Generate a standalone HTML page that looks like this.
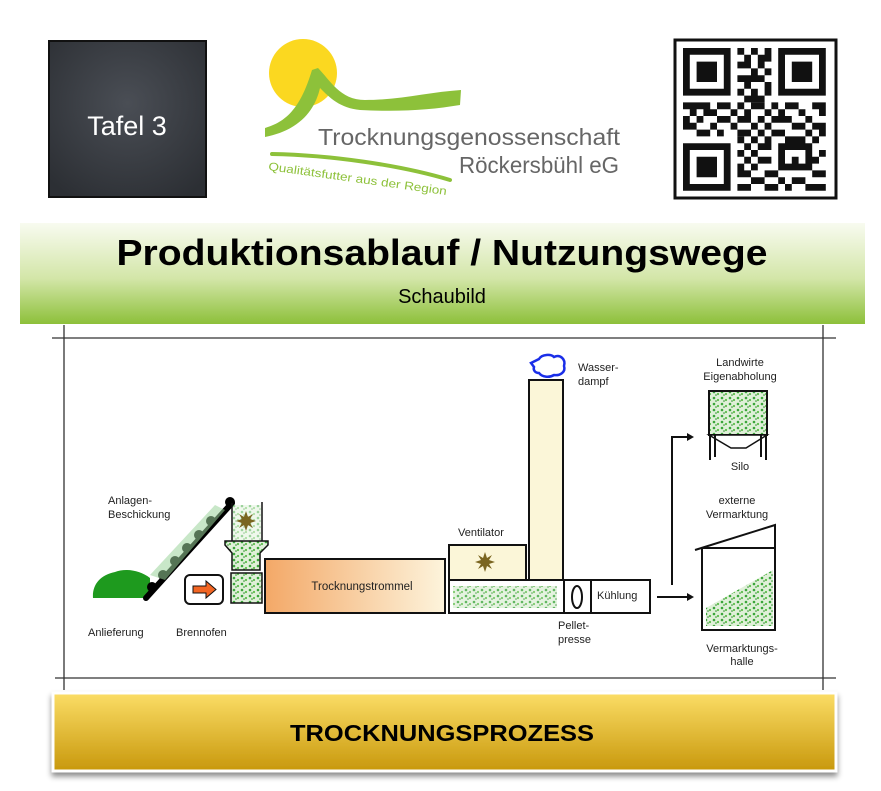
<!DOCTYPE html>
<html><head><meta charset="utf-8"><style>
html,body{margin:0;padding:0;background:#fff;width:881px;height:791px;overflow:hidden}
svg{display:block}
text{font-family:"Liberation Sans",sans-serif}
</style></head><body>
<svg width="881" height="791" viewBox="0 0 881 791" xmlns="http://www.w3.org/2000/svg">
<defs>
<linearGradient id="gb" x1="0" y1="0" x2="0" y2="1"><stop offset="0" stop-color="#f8fbf0"/><stop offset="0.55" stop-color="#d3e6a8"/><stop offset="1" stop-color="#8dc03a"/></linearGradient>
<linearGradient id="gold" x1="0" y1="0" x2="0" y2="1"><stop offset="0" stop-color="#fbdd66"/><stop offset="1" stop-color="#c8980c"/></linearGradient>
<linearGradient id="drum" x1="0" y1="0" x2="1" y2="0"><stop offset="0" stop-color="#f3a867"/><stop offset="1" stop-color="#fdf4dc"/></linearGradient>
<radialGradient id="chalk" cx="0.5" cy="0.4" r="0.7"><stop offset="0" stop-color="#4a4e55"/><stop offset="1" stop-color="#2c2f34"/></radialGradient>
<pattern id="grn" width="8" height="6" patternUnits="userSpaceOnUse"><rect width="8" height="6" fill="#dff0d8"/><circle cx="2" cy="2" r="1.3" fill="#3aa53a"/><circle cx="6" cy="4" r="1.1" fill="#5bbd4a"/><circle cx="4" cy="5" r="0.8" fill="#2e8b2e"/></pattern>
<filter id="sh" x="-5%" y="-20%" width="110%" height="150%"><feDropShadow dx="0" dy="4" stdDeviation="3" flood-opacity="0.45"/></filter>
</defs>

<rect x="49" y="41" width="157" height="156" fill="url(#chalk)" stroke="#111" stroke-width="2"/>
<text x="127" y="135" text-anchor="middle" font-size="27" fill="#fff">Tafel 3</text>

<circle cx="303" cy="73" r="34" fill="#fbd820"/>
<path d="M265,128 C285,122 300,110 312,70 L318,68 C330,80 340,100 365,100 C400,100 430,92 461,90 L460,105 C430,110 400,112 360,110 C340,108 330,98 320,88 C315,110 300,130 265,137 Z" fill="#8dc13a"/>
<text x="318" y="145" font-size="23" fill="#666" textLength="302" lengthAdjust="spacingAndGlyphs">Trocknungsgenossenschaft</text>
<text x="619" y="173" font-size="23" fill="#666" text-anchor="end" textLength="160" lengthAdjust="spacingAndGlyphs">Röckersbühl eG</text>
<path d="M272,154 C330,155 400,165 450,180" stroke="#8dc13a" stroke-width="4" fill="none" stroke-linecap="round"/>
<text x="268" y="170" font-size="11.5" fill="#8dc13a" transform="rotate(8 268 170)" textLength="180" lengthAdjust="spacingAndGlyphs">Qualitätsfutter aus der Region</text>

<rect x="675" y="40" width="161" height="158" fill="#fff" stroke="#111" stroke-width="3"/>
<g transform="translate(683,48) scale(6.8)" fill="#111">
<path d="M0,0h7v7h-7zM1,1v5h5v-5zM2,2h3v3h-3z" fill-rule="evenodd"/>
<path d="M14,0h7v7h-7zM15,1v5h5v-5zM16,2h3v3h-3z" fill-rule="evenodd"/>
<path d="M0,14h7v7h-7zM1,15v5h5v-5zM2,16h3v3h-3z" fill-rule="evenodd"/>
<path d="M8,0h1v1h-1zM10,0h1v1h-1zM12,0h1v1h-1zM9,1h1v1h-1zM11,1h2v1h-2zM8,2h2v1h-2zM11,2h1v1h-1zM10,3h1v1h-1zM12,3h1v1h-1zM8,4h4v1h-4zM9,5h1v1h-1zM12,5h1v1h-1zM8,6h1v1h-1zM10,6h1v1h-1zM12,6h1v1h-1zM9,7h3v1h-3z"/>
<path d="M0,8h4v1h-4zM5,8h2v1h-2zM8,8h1v1h-1zM10,8h2v1h-2zM13,8h1v1h-1zM15,8h2v1h-2zM19,8h2v1h-2zM1,9h1v1h-1zM3,9h2v1h-2zM7,9h1v1h-1zM9,9h1v1h-1zM12,9h1v1h-1zM14,9h1v1h-1zM17,9h1v1h-1zM20,9h1v1h-1zM0,10h1v1h-1zM2,10h1v1h-1zM5,10h2v1h-2zM8,10h2v1h-2zM11,10h1v1h-1zM13,10h3v1h-3zM18,10h1v1h-1zM0,11h2v1h-2zM4,11h1v1h-1zM7,11h1v1h-1zM10,11h1v1h-1zM12,11h1v1h-1zM16,11h2v1h-2zM19,11h2v1h-2zM2,12h2v1h-2zM5,12h1v1h-1zM8,12h2v1h-2zM11,12h1v1h-1zM13,12h2v1h-2zM18,12h1v1h-1zM20,12h1v1h-1z"/>
<path d="M8,13h1v1h-1zM10,13h1v1h-1zM12,13h1v1h-1zM15,13h3v1h-3zM19,13h1v1h-1zM9,14h1v1h-1zM11,14h2v1h-2zM14,14h5v1h-5zM8,15h1v1h-1zM10,15h1v1h-1zM14,15h1v1h-1zM18,15h1v1h-1zM20,15h1v1h-1zM9,16h1v1h-1zM11,16h2v1h-2zM14,16h1v1h-1zM16,16h1v1h-1zM18,16h2v1h-2zM8,17h1v1h-1zM10,17h1v1h-1zM14,17h5v1h-5zM8,18h2v1h-2zM12,18h2v1h-2zM19,18h2v1h-2zM10,19h2v1h-2zM14,19h1v1h-1zM16,19h2v1h-2zM8,20h2v1h-2zM12,20h2v1h-2zM15,20h1v1h-1zM18,20h3v1h-3z"/>
</g>

<rect x="20" y="223" width="845" height="101" fill="url(#gb)"/>
<text x="442" y="265" text-anchor="middle" font-size="36" font-weight="bold" fill="#000" textLength="651" lengthAdjust="spacingAndGlyphs">Produktionsablauf / Nutzungswege</text>
<text x="442" y="303" text-anchor="middle" font-size="20" fill="#000">Schaubild</text>

<g stroke="#333" stroke-width="1.3" fill="none">
<line x1="52" y1="338" x2="836" y2="338"/>
<line x1="64" y1="325" x2="64" y2="690"/>
<line x1="823" y1="325" x2="823" y2="690"/>
<line x1="55" y1="678" x2="836" y2="678"/>
</g>

<g font-size="11" fill="#222">
<text x="108" y="504">Anlagen-</text>
<text x="108" y="518">Beschickung</text>
<text x="88" y="636">Anlieferung</text>
<text x="176" y="636">Brennofen</text>
<text x="458" y="536">Ventilator</text>
<text x="578" y="371">Wasser-</text>
<text x="578" y="385">dampf</text>
<text x="558" y="629">Pellet-</text>
<text x="558" y="643">presse</text>
<text x="740" y="366" text-anchor="middle">Landwirte</text>
<text x="740" y="380" text-anchor="middle">Eigenabholung</text>
<text x="740" y="470" text-anchor="middle">Silo</text>
<text x="737" y="504" text-anchor="middle">externe</text>
<text x="737" y="518" text-anchor="middle">Vermarktung</text>
<text x="742" y="652" text-anchor="middle">Vermarktungs-</text>
<text x="742" y="665" text-anchor="middle">halle</text>
</g>

<path d="M93,598 C92,585 100,575 115,572 C125,568 140,570 150,578 L150,598 Z" fill="#1e9a1e"/>
<path d="M146,598 L232,503" stroke="#000" stroke-width="6" stroke-linecap="round"/>
<g fill="#000"><circle cx="152" cy="587" r="5"/><circle cx="163" cy="575" r="5"/><circle cx="175" cy="561" r="5"/><circle cx="187" cy="548" r="5"/><circle cx="199" cy="535" r="5"/><circle cx="211" cy="521" r="5"/><circle cx="230" cy="502" r="5"/></g>
<path d="M150,575 L215,505 L225,510 L165,580 Z" fill="#9bd49b" opacity="0.55"/>
<g stroke="#111" stroke-width="1.5" fill="none">
<line x1="232" y1="503" x2="232" y2="541"/><line x1="262" y1="502" x2="262" y2="541"/>
</g>
<rect x="233" y="505" width="28" height="36" fill="url(#grn)" opacity="0.5"/>
<g transform="translate(246,521)" fill="#7a6520">
<circle r="5"/><path d="M0,-10L2,-4L7,-7L4,-2L10,0L4,2L7,7L2,4L0,10L-2,4L-7,7L-4,2L-10,0L-4,-2L-7,-7L-2,-4Z"/>
</g>
<path d="M225,541 L268,541 L268,545 L260,553 L260,570 L232,570 L232,553 L225,545 Z" fill="url(#grn)" stroke="#111" stroke-width="1.5"/>
<rect x="231" y="573" width="31" height="30" fill="url(#grn)" stroke="#111" stroke-width="1.5"/>
<rect x="185" y="575" width="38" height="29" rx="5" fill="#fff" stroke="#111" stroke-width="2"/>
<path d="M193,586 h13 v-5 l10,8.5 l-10,8.5 v-5 h-13z" fill="#f26522" stroke="#111" stroke-width="1"/>
<rect x="265" y="559" width="180" height="54" fill="url(#drum)" stroke="#111" stroke-width="2"/>
<text x="362" y="590" text-anchor="middle" font-size="11.5" fill="#222">Trocknungstrommel</text>
<rect x="449" y="545" width="77" height="35" fill="#fbf6d8" stroke="#111" stroke-width="2"/>
<g transform="translate(485,562)" fill="#7a6520">
<circle r="4"/><path d="M0,-10L2,-4L7,-7L4,-2L10,0L4,2L7,7L2,4L0,10L-2,4L-7,7L-4,2L-10,0L-4,-2L-7,-7L-2,-4Z"/>
</g>
<rect x="529" y="380" width="34" height="200" fill="#fbf6d8" stroke="#111" stroke-width="2"/>
<path d="M531,363 l8,-4 c3,-5 12,-5 15,-2 c6,-3 12,2 10,9 c2,6 -4,10 -10,9 c-5,3 -12,2 -15,-2 c-4,0 -6,-3 -5,-6 z" fill="#fff" stroke="#1a2ee8" stroke-width="2.5"/>
<rect x="449" y="580" width="201" height="33" fill="#fff" stroke="#111" stroke-width="2"/>
<rect x="453" y="586" width="104" height="22" fill="url(#grn)" opacity="0.8"/>
<line x1="564" y1="580" x2="564" y2="613" stroke="#111" stroke-width="2"/>
<line x1="591" y1="580" x2="591" y2="613" stroke="#111" stroke-width="2"/>
<ellipse cx="577" cy="597" rx="5" ry="11" fill="#fff" stroke="#111" stroke-width="2"/>
<text x="597" y="599" font-size="11" fill="#222">Kühlung</text>
<g stroke="#111" stroke-width="2" fill="none">
<line x1="657" y1="597" x2="690" y2="597"/>
<polyline points="672,585 672,437 690,437"/>
</g>
<path d="M694,597 l-7,-4 v8z M694,437 l-7,-4 v8z" fill="#111"/>
<rect x="709" y="391" width="58" height="44" fill="url(#grn)" stroke="#111" stroke-width="2"/>
<path d="M709,435 L767,435 L746,448 L731,448 Z" fill="#fff" stroke="#111" stroke-width="1.5"/>
<g stroke="#111" stroke-width="2"><line x1="710" y1="435" x2="710" y2="460"/><line x1="715" y1="435" x2="715" y2="457"/><line x1="766" y1="435" x2="766" y2="460"/><line x1="761" y1="435" x2="761" y2="457"/></g>
<path d="M695,550 L775,525 L775,548" stroke="#111" stroke-width="2" fill="none"/>
<rect x="702" y="548" width="73" height="82" fill="#fff" stroke="#111" stroke-width="2"/>
<path d="M706,626 L706,608 L773,570 L773,626 Z" fill="url(#grn)"/>

<rect x="53" y="693" width="783" height="78" fill="url(#gold)" stroke="#fff" stroke-width="3" filter="url(#sh)"/>
<text x="442" y="741" text-anchor="middle" font-size="23" font-weight="bold" fill="#000" textLength="304" lengthAdjust="spacingAndGlyphs">TROCKNUNGSPROZESS</text>
</svg>
</body></html>
